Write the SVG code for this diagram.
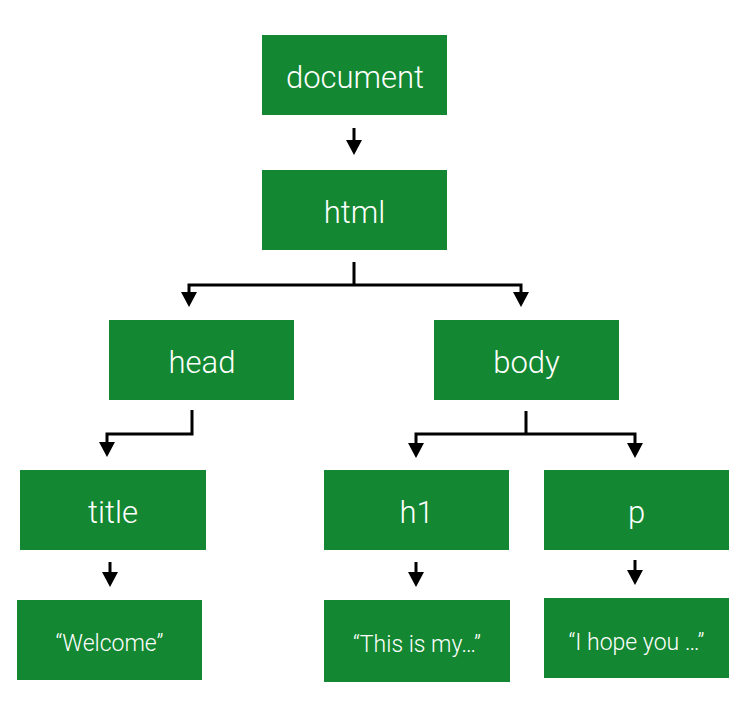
<svg xmlns="http://www.w3.org/2000/svg" width="754" height="708" viewBox="0 0 754 708">
<style>
.box{fill:#138731}
.lbl{font-family:"Roboto","Liberation Sans",sans-serif;font-weight:300;font-size:31px;fill:#fff;text-anchor:middle}
.sm{font-family:"Roboto","Liberation Sans",sans-serif;font-weight:300;font-size:23px;fill:#fff;text-anchor:middle}
.con{fill:none;stroke:#000;stroke-width:3}
.ah{fill:#000}
</style>
<rect width="754" height="708" fill="#fff"/>
<g id="connectors">
<path class="con" d="M354,128 V141" />
<polygon class="ah" points="346,140 362,140 354,155" />
<path class="con" d="M354,262 V285 M189,285 H521 M189,283.5 V294 M521,283.5 V294" />
<polygon class="ah" points="181,292 197,292 189,307" />
<polygon class="ah" points="513,292 529,292 521,307" />
<path class="con" d="M192,410 V434 H107 V444" />
<polygon class="ah" points="99,442 115,442 107,457" />
<path class="con" d="M526,411 V434 M416,434 H635 M416,432.5 V444 M635,432.5 V444" />
<polygon class="ah" points="408,443 424,443 416,458" />
<polygon class="ah" points="627,443 643,443 635,458" />
<path class="con" d="M110,562 V574" />
<polygon class="ah" points="102,572 118,572 110,587" />
<path class="con" d="M416,562 V574" />
<polygon class="ah" points="408,572 424,572 416,587" />
<path class="con" d="M635,560 V572" />
<polygon class="ah" points="627,570 643,570 635,585" />
</g>
<g id="document"><rect class="box" x="262" y="35" width="185" height="80"/><text class="lbl" x="355" y="88">document</text></g>
<g id="html"><rect class="box" x="262" y="170" width="185" height="80"/><text class="lbl" x="354.5" y="223">html</text></g>
<g id="head"><rect class="box" x="109" y="320" width="185" height="80"/><text class="lbl" x="202" y="373">head</text></g>
<g id="body"><rect class="box" x="434" y="320" width="185" height="80"/><text class="lbl" x="526.5" y="373">body</text></g>
<g id="title"><rect class="box" x="20" y="470" width="186" height="80"/><text class="lbl" x="113" y="523">title</text></g>
<g id="h1"><rect class="box" x="324" y="470" width="185" height="80"/><text class="lbl" x="416.5" y="523">h1</text></g>
<g id="p"><rect class="box" x="544" y="470" width="185" height="80"/><text class="lbl" x="636.5" y="523">p</text></g>
<g id="text-welcome"><rect class="box" x="17" y="600" width="185" height="80"/><text class="sm" x="109.5" y="651">“Welcome”</text></g>
<g id="text-this"><rect class="box" x="324" y="600" width="186" height="82"/><text class="sm" x="417" y="652">“This is my…”</text></g>
<g id="text-hope"><rect class="box" x="544" y="598" width="185" height="80"/><text class="sm" x="636.5" y="650">“I hope you …”</text></g>
</svg>
